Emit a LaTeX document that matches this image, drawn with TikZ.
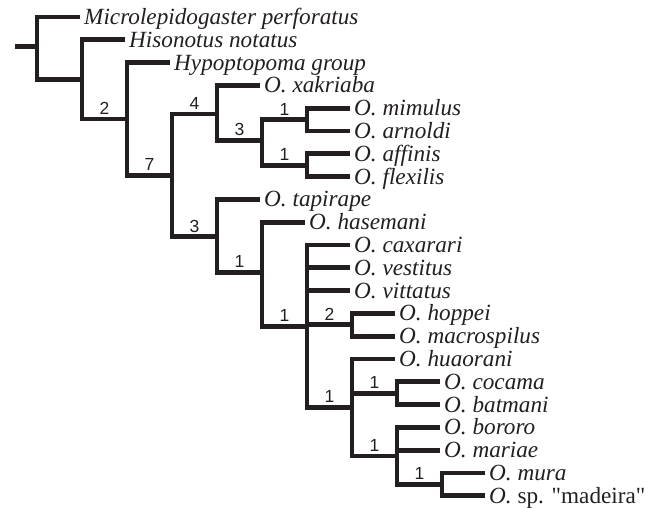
\documentclass[tikz,border=0pt]{standalone}
\usepackage{fontspec}
\setmainfont{Liberation Serif}[Ligatures=TeXOff]
\newfontfamily\numfont{Liberation Sans}
\definecolor{ink}{RGB}{35,31,32}
\begin{document}
\begin{tikzpicture}[x=1pt, y=-22.8pt,
    branch/.style={draw=ink, line width=4.8pt, line join=miter},
    taxon/.style={anchor=west, inner xsep=4pt, inner ysep=0pt, text height=15pt, text depth=0pt,
        font=\fontsize{23.2}{23}\selectfont\itshape, text=ink},
    support/.style={above, inner sep=2.2pt, font=\numfont\fontsize{17.5}{17}\selectfont, text=ink}]
    \useasboundingbox (0,-0.746) rectangle (650,21.491);
    % Terminal taxa
    \foreach \r/\nm/\x/\txt in {0/micro/80/Microlepidogaster perforatus,1/hiso/125/Hisonotus notatus,
        2/hypo/170/Hypoptopoma group,3/xakr/260/O. xakriaba,4/mimu/350/O. mimulus,5/arno/350/O. arnoldi,
        6/affi/350/O. affinis,7/flex/350/O. flexilis,8/tapi/260/O. tapirape,9/hase/305/O. hasemani,
        10/caxa/350/O. caxarari,11/vest/350/O. vestitus,12/vitt/350/O. vittatus,13/hopp/395/O. hoppei,
        14/macr/395/O. macrospilus,15/huao/395/O. huaorani,16/coca/440/O. cocama,17/batm/440/O. batmani,
        18/boro/440/O. bororo,19/mari/440/O. mariae,20/mura/485/O. mura,21/made/485/{O. {\upshape sp. "madeira"}}}
    {
        \node[taxon] (\nm) at (\x,\r) {\txt};
    }
    % Internal nodes
    \coordinate (stub) at (15,1.3);
    \coordinate (root) at (37,1.3);
    \coordinate (nA) at (82,2.74);
    \coordinate (nB) at (127,4.47);
    \coordinate (nC) at (172,6.95);
    \coordinate (nD) at (217,4.25);
    \coordinate (nE) at (262,5.4);
    \coordinate (nF) at (307,4.5);
    \coordinate (nG) at (307,6.5);
    \coordinate (nH) at (217,9.64);
    \coordinate (nI) at (262,11.2);
    \coordinate (nJ) at (307,13.56);
    \coordinate (nK) at (352,13.5);
    \coordinate (nL) at (352,17.125);
    \coordinate (nM) at (397,16.5);
    \coordinate (nN) at (397,19.25);
    \coordinate (nO) at (442,20.5);
    % Branches to taxa
    \draw[branch] (stub) -- (root);
    \foreach \p/\c in {root/micro,nA/hiso,nB/hypo,nD/xakr,nF/mimu,nF/arno,nG/affi,nG/flex,nH/tapi,nI/hase,
        nJ/caxa,nJ/vest,nJ/vitt,nK/hopp,nK/macr,nL/huao,nM/coca,nM/batm,nN/boro,nN/mari,nO/mura,nO/made}
    {
        \draw[branch] (\p) |- (\c.west);
    }
    \draw[branch] (root) |- (nA);
    % Internal branches with support values
    \foreach \p/\c/\v in {nA/nB/2,nB/nC/7,nC/nD/4,nD/nE/3,nE/nF/1,nE/nG/1,nC/nH/3,nH/nI/1,nI/nJ/1,
        nJ/nK/2,nJ/nL/1,nL/nM/1,nL/nN/1,nN/nO/1}
    {
        \draw[branch] (\p) |- (\c) node[support, pos=0.75] (s\c) {\v};
    }
\end{tikzpicture}
\end{document}
